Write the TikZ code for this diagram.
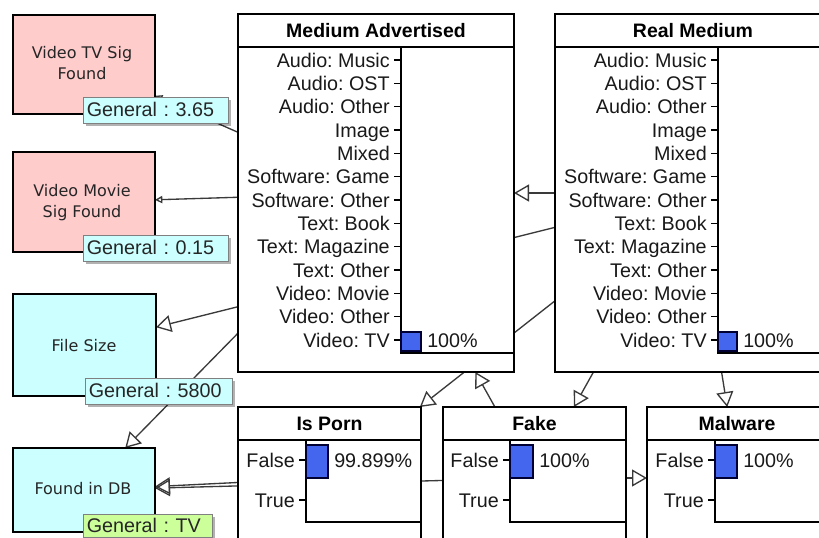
\documentclass[tikz,border=0pt]{standalone}
\usepackage{fontspec}
\setmainfont{Liberation Sans}
\newfontfamily\tahfont{DejaVu Sans}
\usetikzlibrary{arrows.meta,fit,backgrounds,shadows}
\definecolor{pinkfill}{HTML}{FFCCCC}
\definecolor{cyanfill}{HTML}{CCFFFF}
\definecolor{labelfill}{HTML}{CCFFFF}
\definecolor{greenfill}{HTML}{CCFF99}
\definecolor{barblue}{HTML}{4466EE}
\definecolor{edgegray}{HTML}{3A3A3A}
\frenchspacing
\begin{document}
\frenchspacing
\begin{tikzpicture}[x=0.75pt,y=-0.75pt,
  box/.style={draw=black, line width=1.1pt, fill=white, inner sep=0pt, outer sep=0pt},
  varnode/.style={draw=black, line width=1.1pt, inner sep=0pt, outer sep=0pt},
  vartext/.style={inner sep=0pt, align=center,
    font=\tahfont\fontsize{12}{15.75}\selectfont, text=black!85},
  boxline/.style={draw=black, line width=1.1pt},
  titletext/.style={inner sep=0pt, font=\bfseries\fontsize{14.6}{17}\selectfont},
  rowlab/.style={anchor=east, inner sep=0pt, text height=12pt, text depth=1.4pt,
    font=\fontsize{14.8}{17}\selectfont, text=black!90},
  pct/.style={anchor=west, inner sep=0pt, text height=12pt, text depth=1.4pt,
    font=\fontsize{14.8}{17}\selectfont, text=black!90},
  bar/.style={draw=black!80!blue, line width=0.9pt, fill=barblue},
  genlabel/.style={draw=black!50, line width=0.8pt, fill=labelfill, inner ysep=0pt, inner xsep=2.5pt,
    anchor=north west, align=left, minimum height=19.5pt, text depth=1.4pt, text height=11pt,
    font=\fontsize{14.8}{17}\selectfont, text=black!85,
    drop shadow={shadow xshift=1.5pt, shadow yshift=-1.5pt, fill=black, opacity=0.3}},
  edge/.style={draw=edgegray, line width=1pt, -{Triangle[open, length=11.25pt, width=12.75pt]}},
  smalledge/.style={draw=edgegray, line width=1pt, -{Triangle[open, length=5.5pt, width=5.5pt]}}
]
\useasboundingbox (0,0) rectangle (819,537);
\clip (0,0) rectangle (819,537);

% ---------- left variable nodes ----------
\node[varnode, fill=pinkfill, fit={(13,15)(155,114)}] (vtv) {};
\node[vartext] (vtv-t) at (82,63.5) {Video TV Sig\\Found};
\node[varnode, fill=pinkfill, fit={(13,152)(155,252)}] (vmov) {};
\node[vartext] (vmov-t) at (82,203) {Video Movie\\Sig Found};
\node[varnode, fill=cyanfill, fit={(13,294)(156,396)}] (fsize) {};
\node[vartext] (fsize-t) at (84,346) {File Size};
\node[varnode, fill=cyanfill, fit={(13,448)(155,532)}] (fdb) {};
\node[vartext] (fdb-t) at (83,489) {Found in DB};

% ---------- Medium Advertised ----------
\node[box, fit={(238,14)(514,372)}] (ma) {};
\node[titletext] (ma-t) at (376,31) {Medium Advertised};
\draw[boxline] (238,47) -- (514,47);
\draw[boxline] (401,47) -- (401,353) -- (514,353);

% ---------- Real Medium ----------
\node[box, fit={(555,14)(831,372)}] (rm) {};
\node[titletext] (rm-t) at (693,31) {Real Medium};
\draw[boxline] (555,47) -- (831,47);
\draw[boxline] (718,47) -- (718,353) -- (831,353);

\foreach \lab [count=\i from 0] in {Audio: Music,Audio: OST,Audio: Other,Image,Mixed,Software: Game,Software: Other,Text: Book,Text: Magazine,Text: Other,Video: Movie,Video: Other,Video: TV}{
  \node[rowlab] (ma-r\i) at (390,60+23.33*\i) {\lab};
  \draw[line width=0.9pt] (394,60+23.33*\i) -- (401,60+23.33*\i);
  \node[rowlab] (rm-r\i) at (707,60+23.33*\i) {\lab};
  \draw[line width=0.9pt] (711,60+23.33*\i) -- (718,60+23.33*\i);
}
\draw[bar] (401,332) rectangle (421,351);
\node[pct] (ma-p) at (427,340) {100\%};
\draw[bar] (718,332) rectangle (737,351);
\node[pct] (rm-p) at (743,340) {100\%};

% ---------- Is Porn ----------
\node[box, fit={(238,407)(421,549)}] (porn) {};
\node[titletext] (porn-t) at (329.5,423.5) {Is Porn};
\draw[boxline] (238,440) -- (421,440);
\draw[boxline] (306,440) -- (306,522) -- (421,522);
\node[rowlab] (porn-f) at (295,460) {False};
\draw[line width=0.9pt] (299,460) -- (306,460);
\node[rowlab] (porn-tr) at (295,500) {True};
\draw[line width=0.9pt] (299,500) -- (306,500);
\draw[bar] (306,445) rectangle (328,478);
\node[pct] (porn-p) at (334,460) {99.899\%};

% ---------- Fake ----------
\node[box, fit={(443,407)(626,549)}] (fake) {};
\node[titletext] (fake-t) at (534.5,423.5) {Fake};
\draw[boxline] (443,440) -- (626,440);
\draw[boxline] (510,440) -- (510,522) -- (626,522);
\node[rowlab] (fake-f) at (499,460) {False};
\draw[line width=0.9pt] (503,460) -- (510,460);
\node[rowlab] (fake-tr) at (499,500) {True};
\draw[line width=0.9pt] (503,500) -- (510,500);
\draw[bar] (510,445) rectangle (533,478);
\node[pct] (fake-p) at (539,460) {100\%};

% ---------- Malware ----------
\node[box, fit={(647,407)(830,549)}] (mal) {};
\node[titletext] (mal-t) at (737,423.5) {Malware};
\draw[boxline] (647,440) -- (830,440);
\draw[boxline] (715,440) -- (715,522) -- (830,522);
\node[rowlab] (mal-f) at (704,460) {False};
\draw[line width=0.9pt] (708,460) -- (715,460);
\node[rowlab] (mal-tr) at (704,500) {True};
\draw[line width=0.9pt] (708,500) -- (715,500);
\draw[bar] (715,445) rectangle (737,478);
\node[pct] (mal-p) at (743,460) {100\%};

% ---------- value labels ----------
\node[genlabel, text width=103.75pt] (l1) at (83,97) {General : 3.65};
\node[genlabel, text width=103.75pt] (l2) at (83,235) {General : 0.15};
\node[genlabel, text width=105.25pt] (l3) at (85,378) {General : 5800};
\node[genlabel, fill=greenfill, text width=91.75pt, minimum height=17pt] (l4) at (83,514) {General : TV};

% ---------- connectors (behind the boxes) ----------
\begin{pgfonlayer}{background}
  \clip (0,0) rectangle (819,537);
  \fill[white] (0,0) rectangle (819,537);
  \draw[smalledge] (ma) -- (vtv);
  \draw[smalledge] (ma) -- (vmov);
  \draw[edge] (rm) -- (fsize);
  \draw[edge] (ma) -- (fdb);
  \draw[edge] (rm) -- (ma);
  \draw[edge] (rm) -- (porn);
  \draw[edge] (rm) -- (fake);
  \draw[edge] (rm) -- (mal);
  \draw[edge] (fake) -- (ma);
  \draw[edge] (fake) -- (mal);
  \draw[edge] (porn) -- (fdb);
  \draw[edge] (fake) -- (fdb);
\end{pgfonlayer}
\end{tikzpicture}
\end{document}
